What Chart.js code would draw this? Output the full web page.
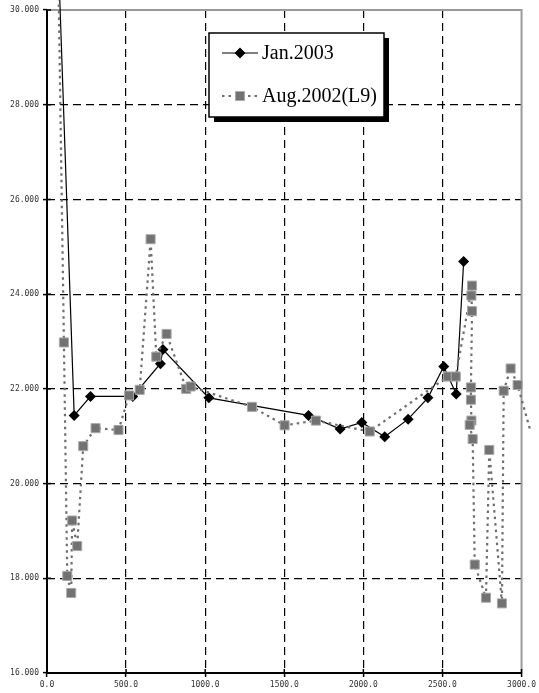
<!DOCTYPE html>
<html><head><meta charset="utf-8">
<script src="https://cdn.jsdelivr.net/npm/chart.js@4"></script>
<style>html,body{margin:0;padding:0;background:#fff;}#wrap{width:539px;height:693px;position:relative;}</style>
</head><body><div id="wrap"><canvas id="c" width="539" height="693"></canvas></div>
<script>
const xTickLabels = ['0.0','500.0','1000.0','1500.0','2000.0','2500.0','3000.0'];
const yTickLabels = ['16.000','18.000','20.000','22.000','24.000','26.000','28.000','30.000'];
const seriesNames = ['Jan.2003','Aug.2002(L9)'];
const janX = [0, 172, 275, 542, 717, 733, 1023, 1653, 1853, 1990, 2135, 2283, 2408, 2508, 2587, 2634];
const janY = [38, 21.44, 21.84, 21.84, 22.53, 22.83, 21.81, 21.44, 21.15, 21.29, 20.99, 21.36, 21.81, 22.47, 21.89, 24.69];
const augX = [30, 107, 128, 153, 159, 191, 229, 307, 452, 519, 586, 655, 691, 756, 880, 908, 1296, 1502, 1700, 2040, 2534, 2584, 2687, 2683, 2687, 2680, 2680, 2683, 2672, 2691, 2704, 2775, 2796, 2876, 2887, 2931, 2975, 3057];
const augY = [40, 22.98, 18.05, 17.69, 19.22, 18.68, 20.79, 21.17, 21.13, 21.86, 21.98, 25.16, 22.68, 23.16, 22.00, 22.05, 21.62, 21.23, 21.33, 21.10, 22.26, 22.26, 24.18, 23.97, 23.64, 22.03, 21.77, 21.33, 21.24, 20.94, 18.29, 17.59, 20.71, 17.47, 21.96, 22.43, 22.08, 21.10];

const toPts = (xs, ys) => xs.map((x, i) => ({x: x, y: ys[i]}));
const X_MIN = 0, X_MAX = 3000, Y_MIN = 16, Y_MAX = 30;
const inRange = c => c.raw && c.raw.x >= X_MIN && c.raw.x <= X_MAX && c.raw.y >= Y_MIN && c.raw.y <= Y_MAX;

const framePlugin = {
  id: 'frame',
  beforeDatasetsDraw(chart) {
    const {ctx, chartArea: a} = chart;
    const xs = chart.scales.x, ys = chart.scales.y;
    ctx.save();
    ctx.setLineDash([]);
    ctx.strokeStyle = '#9a9a9a'; ctx.lineWidth = 2;
    ctx.beginPath(); ctx.moveTo(a.left, a.top); ctx.lineTo(a.right, a.top); ctx.lineTo(a.right, a.bottom); ctx.stroke();
    ctx.strokeStyle = '#000'; ctx.lineWidth = 2;
    ctx.beginPath(); ctx.moveTo(a.left, a.top); ctx.lineTo(a.left, a.bottom); ctx.lineTo(a.right, a.bottom); ctx.stroke();
    ctx.lineWidth = 1.5;
    xs.ticks.forEach(t => { const p = xs.getPixelForValue(t.value); ctx.beginPath(); ctx.moveTo(p, a.bottom); ctx.lineTo(p, a.bottom - 4); ctx.stroke(); });
    ys.ticks.forEach(t => { const p = ys.getPixelForValue(t.value); ctx.beginPath(); ctx.moveTo(a.left, p); ctx.lineTo(a.left + 4, p); ctx.stroke(); });
    ctx.restore();
  },
  afterDraw(chart) {
    const {ctx} = chart;
    const ds = chart.data.datasets;
    const boxL = 209, boxT = 33, boxB = 117;
    const rows = [53, 96];
    const lineL = 222, lineR = 258, mark = 240, textX = 262;
    ctx.save();
    ctx.font = '20px "Liberation Serif"';
    let maxW = 0;
    ds.forEach(d => { maxW = Math.max(maxW, ctx.measureText(d.label).width); });
    const boxR = Math.round(textX + maxW + 7);
    ctx.fillStyle = '#000';
    ctx.fillRect(boxL + 5, boxT + 5, boxR - boxL, boxB - boxT);
    ctx.fillStyle = '#fff';
    ctx.fillRect(boxL, boxT, boxR - boxL, boxB - boxT);
    ctx.strokeStyle = '#000'; ctx.lineWidth = 1.5; ctx.setLineDash([]);
    ctx.strokeRect(boxL, boxT, boxR - boxL, boxB - boxT);
    ds.forEach((d, i) => {
      const y = rows[i];
      ctx.save();
      ctx.strokeStyle = d.borderColor; ctx.lineWidth = d.borderWidth;
      ctx.setLineDash(d.borderDash || []);
      ctx.beginPath(); ctx.moveTo(lineL, y); ctx.lineTo(lineR, y); ctx.stroke();
      ctx.restore();
      ctx.save();
      ctx.fillStyle = d.pointBackgroundColor; ctx.strokeStyle = d.pointBorderColor; ctx.lineWidth = d.pointBorderWidth;
      ctx.beginPath();
      if (d.pointStyle === 'rect') { const s = d.legendRadius * Math.SQRT1_2; ctx.rect(mark - s, y - s, 2 * s, 2 * s); }
      else { const r = d.legendRadius; ctx.moveTo(mark - r, y); ctx.lineTo(mark, y - r); ctx.lineTo(mark + r, y); ctx.lineTo(mark, y + r); ctx.closePath(); }
      ctx.fill(); if (d.pointBorderWidth) ctx.stroke();
      ctx.restore();
      ctx.fillStyle = '#000'; ctx.textBaseline = 'middle'; ctx.textAlign = 'left';
      ctx.fillText(d.label, textX, y + 1);
    });
    ctx.restore();
  }
};

new Chart(document.getElementById('c'), {
  type: 'scatter',
  data: {
    datasets: [
      {
        label: seriesNames[0], data: toPts(janX, janY), showLine: true, order: 2,
        borderColor: '#000', borderWidth: 1.2, tension: 0,
        pointStyle: 'rectRot', pointRadius: c => inRange(c) ? 5.5 : 0, legendRadius: 5.5,
        pointBackgroundColor: '#000', pointBorderColor: '#000', pointBorderWidth: 0,
        backgroundColor: '#000', clip: false
      },
      {
        label: seriesNames[1], data: toPts(augX, augY), showLine: true, order: 1,
        borderColor: '#6e6e6e', borderWidth: 2.2, borderDash: [2.5, 4], tension: 0,
        pointStyle: 'rect', pointRadius: c => inRange(c) ? 6.4 : 0, legendRadius: 6.4,
        pointBackgroundColor: '#727272', pointBorderColor: '#a8a8a8', pointBorderWidth: 1,
        backgroundColor: '#727272', clip: false
      }
    ]
  },
  options: {
    responsive: false, animation: false, events: [],
    layout: {padding: {top: 10, right: 16, left: 0, bottom: 0}},
    plugins: {legend: {display: false}, tooltip: {enabled: false}, title: {display: false}},
    scales: {
      x: {
        type: 'linear', min: X_MIN, max: X_MAX,
        afterFit: s => { s.height = 20; },
        afterBuildTicks: s => { s.ticks = xTickLabels.map((l, i) => ({value: X_MIN + i * 500})); },
        ticks: {stepSize: 500, autoSkip: false, maxRotation: 0, padding: 3, color: '#333',
                font: {family: '"DejaVu Sans Mono"', size: 8}, callback: (v, i) => xTickLabels[i]},
        grid: {color: c => (c.tick && (c.tick.value === X_MIN || c.tick.value === X_MAX)) ? 'rgba(0,0,0,0)' : '#000',
               lineWidth: 1.2, tickLength: 4, tickColor: '#000', tickWidth: 1.5},
        border: {display: false, dash: [8, 5]}
      },
      y: {
        type: 'linear', min: Y_MIN, max: Y_MAX,
        afterFit: s => { s.width = 47; },
        afterBuildTicks: s => { s.ticks = yTickLabels.map((l, i) => ({value: Y_MIN + i * 2})); },
        ticks: {stepSize: 2, autoSkip: false, padding: 4, color: '#333',
                font: {family: '"DejaVu Sans Mono"', size: 8}, callback: (v, i) => yTickLabels[i]},
        grid: {color: c => (c.tick && (c.tick.value === Y_MIN || c.tick.value === Y_MAX)) ? 'rgba(0,0,0,0)' : '#000',
               lineWidth: 1.2, tickLength: 4, tickColor: '#000', tickWidth: 1.5},
        border: {display: false, dash: [8, 5]}
      }
    }
  },
  plugins: [framePlugin]
});
</script>
</body></html>
